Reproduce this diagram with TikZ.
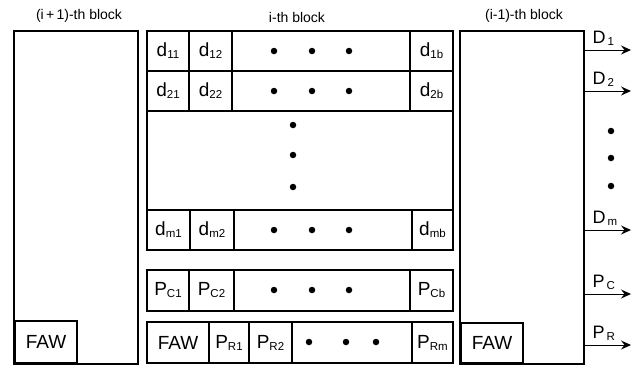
\documentclass[tikz,border=0pt]{standalone}
\usepackage{fontspec}
\setmainfont{Liberation Sans}
\usetikzlibrary{arrows.meta}
\newcommand\sbs[1]{\raisebox{-0.2ex}{\fontsize{11.5}{12}\selectfont #1}}
\newcommand\cellat[6]{\node[cellbox, minimum width={#3-#2}, minimum height={#5-#4}] (#1) at ({(#2+#3)/2},{(#4+#5)/2}) {#6};}
\begin{document}
\begin{tikzpicture}[x=1pt,y=-1pt,line width=1.4pt,
  cellbox/.style={draw, inner sep=0pt, font=\fontsize{19}{20}\selectfont},
  title/.style={font=\fontsize{14}{15}\selectfont, inner sep=0pt},
  lab/.style={font=\fontsize{18}{19}\selectfont, inner sep=0pt, anchor=south west},
  arr/.style={line width=1pt, -{Stealth[length=10pt,width=9pt,inset=3.5pt]}},
  dot/.style={circle, fill, inner sep=0pt, minimum size=6.5pt}]
\useasboundingbox (0,0) rectangle (643,365);
% titles
\node[title] (t1) at (79,16) {(i\,+\,1)-th block};
\node[title] (t2) at (297,17) {i-th block};
\node[title] (t3) at (524,16) {(i-1)-th block};
% left block
\cellat{lblk}{14}{138}{31}{364}{}
\cellat{lfaw}{15}{77}{321}{363}{FAW}
% right block
\cellat{rblk}{460}{584}{31}{364}{}
\cellat{rfaw}{461}{523}{323}{363}{FAW}
% middle data block outline
\cellat{mblk}{147}{453}{31}{250}{}
% row 1
\cellat{a11}{147}{189}{31}{71}{d\sbs{11}}
\cellat{a12}{189}{232}{31}{71}{d\sbs{12}}
\cellat{a1x}{232}{410}{31}{71}{}
\cellat{a1b}{410}{453}{31}{71}{d\sbs{1b}}
% row 2
\cellat{a21}{147}{189}{71}{111}{d\sbs{21}}
\cellat{a22}{189}{232}{71}{111}{d\sbs{22}}
\cellat{a2x}{232}{410}{71}{111}{}
\cellat{a2b}{410}{453}{71}{111}{d\sbs{2b}}
% row m
\cellat{am1}{147}{190}{210}{250}{d\sbs{m1}}
\cellat{am2}{190}{234}{210}{250}{d\sbs{m2}}
\cellat{amx}{234}{412}{210}{250}{}
\cellat{amb}{412}{453}{210}{250}{d\sbs{mb}}
% parity C row
\cellat{c1}{147}{189}{270}{311}{P\sbs{C1}}
\cellat{c2}{189}{234}{270}{311}{P\sbs{C2}}
\cellat{cx}{234}{410}{270}{311}{}
\cellat{cb}{410}{453}{270}{311}{P\sbs{Cb}}
% parity R row
\cellat{rf}{147}{209}{322}{363}{FAW}
\cellat{r1}{209}{249}{322}{363}{P\sbs{R1}}
\cellat{r2}{249}{292}{322}{363}{P\sbs{R2}}
\cellat{rx}{292}{412}{322}{363}{}
\cellat{rm}{412}{453}{322}{363}{P\sbs{Rm}}
% dots
\foreach \y in {51,91,230,290}{
  \foreach \x in {274,312,349}{\node[dot] at (\x,\y) {};}}
\foreach \x in {309,346,376}{\node[dot] at (\x,342) {};}
\foreach \y in {125,155,187}{\node[dot] at (293,\y) {};}
\foreach \y in {131,158,186}{\node[dot] at (611,\y) {};}
% outputs
\foreach \n/\y/\t in {1/50/D\sbs{\,1},2/91/D\sbs{\,2},3/230/D\sbs{\,m},4/294/P\sbs{\,C},5/345/P\sbs{\,R}}{
  \coordinate (o\n) at (631,\y);
  \draw[arr] (o\n -| rblk.east) -- (o\n);
  \node[lab] (l\n) at (592,{\y-4}) {\t};
}
\end{tikzpicture}
\end{document}
